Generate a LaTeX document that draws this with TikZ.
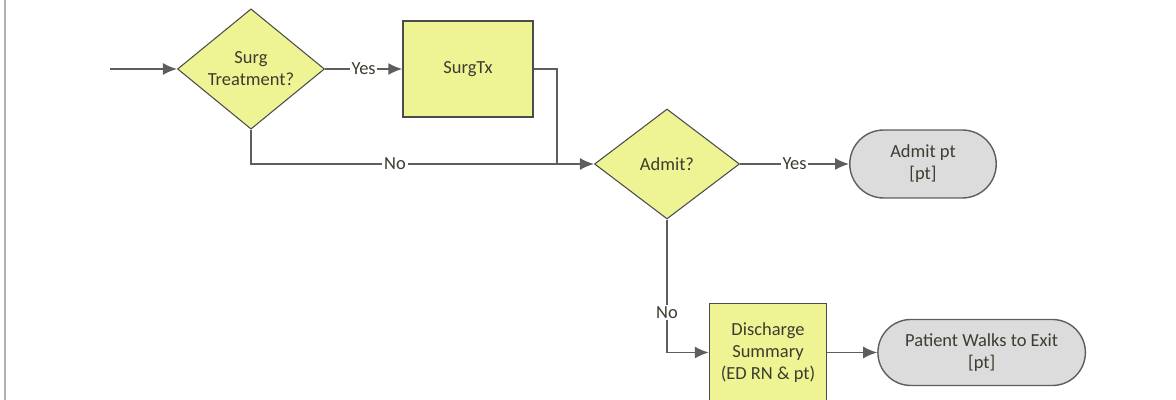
\documentclass[tikz,border=0pt]{standalone}
\usepackage{fontspec}
\setmainfont{Carlito}
\usetikzlibrary{shapes.geometric,shapes.misc,arrows.meta,positioning}

\definecolor{boxyellow}{HTML}{EEF493}
\definecolor{boxgray}{HTML}{DCDCDC}
\definecolor{edgegray}{HTML}{5E5E5E}
\definecolor{textgray}{HTML}{3C3C30}

\tikzset{
  flowline/.style={draw=edgegray, line width=0.9pt, -{Latex[length=2.8mm,width=2.4mm]}},
  plainline/.style={draw=edgegray, line width=0.9pt},
  decision/.style={diamond, draw=edgegray!80!black, fill=boxyellow, line width=0.6pt,
    inner sep=0pt, minimum width=2.94cm, minimum height=2.2cm, align=center,
    text=textgray, font=\fontsize{10.5}{12.5}\selectfont},
  task/.style={rectangle, draw=edgegray!80!black, fill=boxyellow, line width=0.8pt,
    inner sep=2pt, align=center, text=textgray, font=\fontsize{10.5}{12.5}\selectfont},
  terminal/.style={rounded rectangle, draw=edgegray, fill=boxgray, line width=0.8pt,
    inner sep=1pt, align=center, text=textgray, font=\fontsize{10.5}{12.5}\selectfont},
  branch/.style={fill=white, inner sep=1pt, text=textgray, font=\fontsize{10.5}{12}\selectfont}
}

\begin{document}
\begin{tikzpicture}
  \useasboundingbox (0,0) rectangle (23.52,8);
  % left page edge
  \draw[gray!60, line width=1.2pt] (0.1,0) -- (0.1,8);

  % nodes
  \node[decision] (surgq) at (5.02,6.62) {Surg\\Treatment?};
  \node[task, minimum width=2.6cm, minimum height=1.92cm] (surgtx) at (9.36,6.62) {SurgTx};
  \node[decision, minimum width=2.9cm] (admitq) at (13.34,4.72) {Admit?};
  \node[terminal, minimum width=3cm, minimum height=1.36cm] (admitpt) at (18.46,4.72) {Admit pt\\{[pt]}};
  \node[task, minimum width=2.34cm, minimum height=1.96cm] (discharge) at (15.36,0.95) {Discharge\\Summary\\(ED RN \& pt)};
  \node[terminal, minimum width=4.22cm, minimum height=1.32cm, right=1cm of discharge] (walks) {Patient Walks to Exit\\{[pt]}};

  % helper points
  \coordinate (start) at (2.2,6.62);
  \coordinate (txbend) at (11.14,6.62);
  \coordinate (txjoin) at (11.14,4.72);
  \coordinate (nobend) at (5.02,4.72);
  \coordinate (dcbend) at (13.34,0.95);

  % connectors
  \draw[flowline] (start) -- (surgq.west);
  \draw[flowline] (surgq.east) -- node[branch] {Yes} (surgtx.west);
  \draw[plainline] (surgtx.east) -- (txbend) -- (txjoin);
  \draw[flowline] (surgq.south) -- (nobend) -- node[branch, pos=0.42] {No} (admitq.west);
  \draw[flowline] (admitq.east) -- node[branch] {Yes} (admitpt.west);
  \draw[flowline] (admitq.south) -- node[branch, pos=0.7] {No} (dcbend) -- (discharge.west);
  \draw[flowline] (discharge.east) -- (walks.west);
\end{tikzpicture}
\end{document}
